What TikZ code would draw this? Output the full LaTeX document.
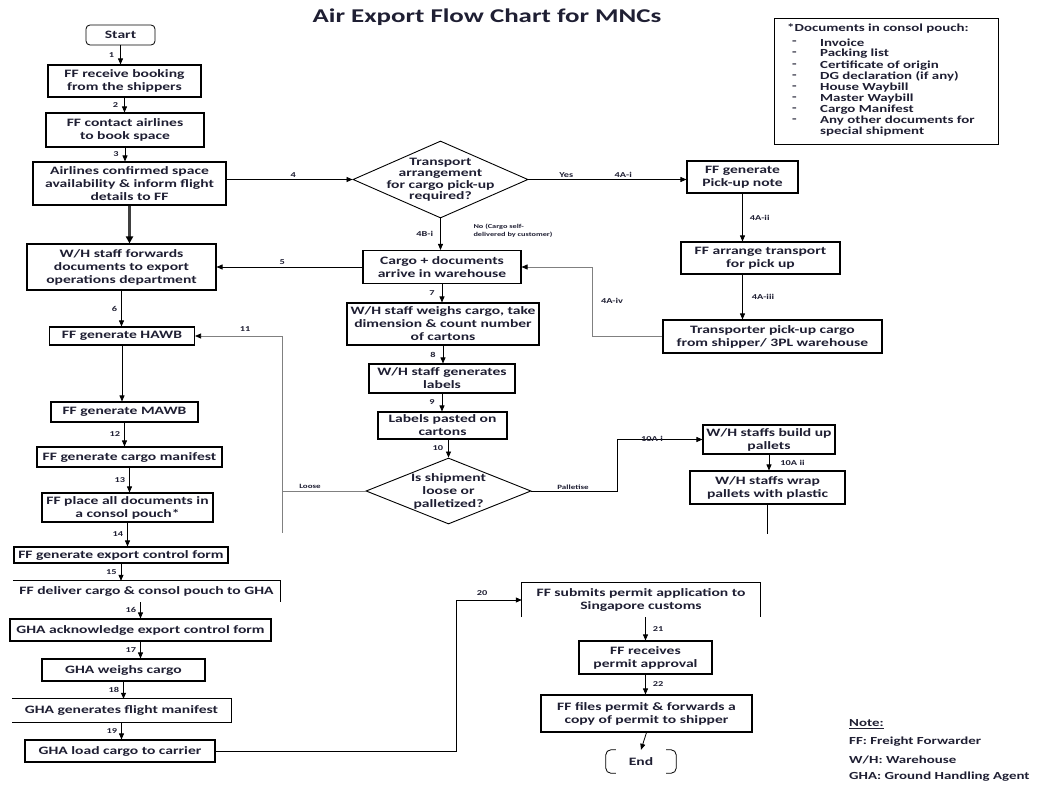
\documentclass[tikz,border=0pt]{standalone}
\usepackage{fontspec}
\setmainfont{Carlito}[FakeStretch=1.38,BoldFeatures={FakeStretch=1.38}]
\usetikzlibrary{arrows.meta,shapes.geometric}
\definecolor{ink}{HTML}{1F1F33}
\definecolor{wire}{HTML}{808080}
\begin{document}
\begin{tikzpicture}[x=1pt,y=-1pt,
  every node/.style={text=ink, font=\bfseries\fontsize{11.3}{13}\selectfont},
  box/.style={draw=black, line width=1.1pt, inner sep=0pt, align=center},
  open/.style={inner sep=0pt, align=center},
  dia/.style={diamond, draw=black, line width=0.9pt, inner sep=0pt},
  arr/.style={draw=black, line width=0.8pt, -{Triangle[length=6pt,width=5pt,color=black]}},
  grayarr/.style={arr, draw=wire},
  edge1/.style={draw=black, line width=1.1pt},
  lbl/.style={font=\bfseries\fontsize{7.5}{9}\selectfont, inner sep=1pt},
  tiny/.style={font=\bfseries\fontsize{6}{8}\selectfont, inner sep=0pt, align=left},
  doc/.style={font=\bfseries\fontsize{10.8}{11}\selectfont, anchor=west, inner sep=0pt},
  note/.style={font=\bfseries\fontsize{10.8}{11}\selectfont, anchor=west, inner sep=0pt},
]
\useasboundingbox[fill=white] (0,0) rectangle (1037,787);

% title
\node[font=\bfseries\fontsize{19.5}{21}\selectfont] (title) at (487,17) {Air Export Flow Chart for MNCs};

% left column
\node[box, rounded corners=4pt, line width=0.8pt, minimum width=69, minimum height=20] (start) at (120.5,35) {Start};
\node[box, minimum width=153, minimum height=32] (b1) at (124.5,81) {FF receive booking\\from the shippers};
\node[box, minimum width=158, minimum height=34] (b2) at (125,130) {FF contact airlines\\to book space};
\node[box, minimum width=193, minimum height=43] (b3) at (129.5,183.5) {Airlines confirmed space\\availability \& inform flight\\details to FF};
\node[box, minimum width=189, minimum height=46] (wh) at (121.5,267) {W/H staff forwards\\documents to export\\operations department};
\node[box, minimum width=145, minimum height=18] (hawb) at (122,336) {FF generate HAWB};
\node[box, minimum width=147, minimum height=20] (mawb) at (124.5,412) {FF generate MAWB};
\node[box, minimum width=185, minimum height=20] (man) at (129.5,457) {FF generate cargo manifest};
\node[box, minimum width=171, minimum height=29] (pouch) at (127.5,507.5) {FF place all documents in\\a consol pouch*};
\node[box, minimum width=214, minimum height=16] (ecf) at (121,555) {FF generate export control form};
\node[open, minimum width=267, minimum height=21] (del) at (146.5,591.5) {FF deliver cargo \& consol pouch to GHA};
\node[box, minimum width=261, minimum height=22] (ack) at (140.5,630) {GHA acknowledge export control form};
\node[box, minimum width=163, minimum height=22] (wgh) at (123.5,670) {GHA weighs cargo};
\node[open, minimum width=219, minimum height=23] (fm) at (121.5,710.5) {GHA generates flight manifest};
\node[box, minimum width=190, minimum height=22] (load) at (120,751) {GHA load cargo to carrier};

% partly drawn frames
\draw[edge1] (del.north west) -- (del.north east) -- (del.south east);
\draw[edge1] (fm.north west) -- (fm.north east) -- (fm.south east) -- (fm.south west);

% middle column
\node[dia, minimum width=175, minimum height=77] (d1) at (440.5,179.5) {};
\node[open, font=\bfseries\fontsize{11.3}{11.5}\selectfont] (d1t) at (d1) {Transport\\arrangement\\for cargo pick-up\\required?};
\node[box, minimum width=158, minimum height=33] (cargo) at (442,267) {Cargo + documents\\arrive in warehouse};
\node[box, minimum width=192, minimum height=42] (weigh) at (443,324) {W/H staff weighs cargo, take\\dimension \& count number\\of cartons};
\node[box, minimum width=146, minimum height=29] (lab) at (442,378.5) {W/H staff generates\\labels};
\node[box, minimum width=129, minimum height=27] (paste) at (442.5,425.5) {Labels pasted on\\cartons};
\node[dia, minimum width=165, minimum height=66] (d2) at (448.5,491) {};
\node[open] (d2t) at (d2) {Is shipment\\loose or\\palletized?};

% right column
\node[box, minimum width=111, minimum height=32] (pick) at (742.5,177) {FF generate\\Pick-up note};
\node[box, minimum width=159, minimum height=32] (arrg) at (760.5,258) {FF arrange transport\\for pick up};
\node[box, minimum width=219, minimum height=33] (trans) at (772.5,336.5) {Transporter pick-up cargo\\from shipper/ 3PL warehouse};
\node[box, minimum width=132, minimum height=29] (build) at (769,439.5) {W/H staffs build up\\pallets};
\node[box, minimum width=155, minimum height=33] (wrap) at (767.5,487.5) {W/H staffs wrap\\pallets with plastic};

% permit steps
\node[open, minimum width=238, minimum height=34] (sub) at (641,600) {FF submits permit application to\\Singapore customs};
\draw[edge1] (sub.south west) -- (sub.north west) -- (sub.north east) -- (sub.south east);
\node[box, minimum width=133, minimum height=33] (rec) at (645.5,657.5) {FF receives\\permit approval};
\node[box, minimum width=211, minimum height=37] (files) at (646.5,713.5) {FF files permit \& forwards a\\copy of permit to shipper};
\node[open, minimum width=70, minimum height=23] (endn) at (641,761.5) {End};
\draw[line width=0.8pt, rounded corners=5pt] ([xshift=10pt]endn.north west) -- (endn.north west) -- (endn.south west) -- ([xshift=10pt]endn.south west);
\draw[line width=0.8pt, rounded corners=5pt] ([xshift=-10pt]endn.north east) -- (endn.north east) -- (endn.south east) -- ([xshift=-10pt]endn.south east);

% connectors, left column
\draw[arr] (start.south) -- (start.south |- b1.north) node[lbl, midway, left=5pt] {1};
\draw[arr] (b1.south) -- (b1.south |- b2.north) node[lbl, midway, left=5pt] {2};
\draw[arr] (b2.south) -- (b2.south |- b3.north) node[lbl, midway, left=5pt] {3};
\draw[line width=2.6pt, draw=black!75, -{Triangle[length=7pt,width=7pt,color=black]}] (b3.south) -- (b3.south |- wh.north);
\draw[arr] (wh.south) -- (wh.south |- hawb.north) node[lbl, midway, left=3pt] {6};
\draw[arr] (hawb.south) -- (hawb.south |- mawb.north);
\draw[arr] (mawb.south) -- (mawb.south |- man.north) node[lbl, midway, left=3pt] {12};
\draw[arr] (man.south) -- (man.south |- pouch.north) node[lbl, midway, left=3pt] {13};
\draw[arr] (pouch.south) -- (pouch.south |- ecf.north) node[lbl, midway, left=3pt] {14};
\draw[arr] (ecf.south) -- (ecf.south |- del.north) node[lbl, midway, left=3pt] {15};
\draw[arr] (ack.north |- del.south) -- (ack.north) node[lbl, midway, left=3pt] {16};
\draw[arr] (ack.south) -- (ack.south |- wgh.north) node[lbl, midway, left=3pt] {17};
\draw[arr] (wgh.south) -- (wgh.south |- fm.north) node[lbl, midway, left=3pt] {18};
\draw[arr] (fm.south) -- (fm.south |- load.north) node[lbl, midway, left=3pt] {19};

% connectors, decision on transport
\draw[arr] (b3.east |- d1.west) -- (d1.west) node[lbl, pos=0.53, above=1pt] {4};
\draw[arr] (d1.east) -- (d1.east -| pick.west) node[lbl, pos=0.24, above=1pt] {Yes} node[lbl, pos=0.6, above=1pt] {4A-i};
\draw[arr] (pick.south) -- (pick.south |- arrg.north) node[lbl, midway, right=6pt] {4A-ii};
\draw[arr] (arrg.south -| pick.south) -- (pick.south |- trans.north) node[lbl, midway, right=8pt] {4A-iii};
\coordinate (k4) at (592,267);
\draw[grayarr] (trans.west) -| (k4) -- (k4 -| cargo.east);
\node[lbl] (l4aiv) at (612,301) {4A-iv};
\draw[arr] (d1.south) -- (d1.south |- cargo.north) node[lbl, midway, left=6pt] {4B-i};
\node[tiny] (l4b) at (513,231) {No (Cargo self-\\delivered by customer)};
\draw[arr] (cargo.west) -- (cargo.west -| wh.east) node[lbl, pos=0.55, above=1pt] {5};

% connectors, warehouse handling
\draw[arr] (cargo.south) -- (cargo.south |- weigh.north) node[lbl, midway, left=6pt] {7};
\draw[arr] (weigh.south) -- (weigh.south |- lab.north) node[lbl, midway, left=6pt] {8};
\draw[arr] (lab.south) -- (lab.south |- paste.north) node[lbl, midway, left=6pt] {9};
\draw[arr] (paste.south -| d2.north) -- (d2.north) node[lbl, midway, left=4pt] {10};

% loose shipment back to HAWB
\coordinate (k11) at (282,491);
\coordinate (k11b) at (282,533);
\draw[grayarr] (d2.west) -- (k11) |- (hawb.east);
\draw[draw=wire, line width=0.8pt] (k11) -- (k11b);
\node[lbl, font=\bfseries\fontsize{6.5}{8}\selectfont] (lloose) at (310,486) {Loose};
\node[lbl] (l11) at (245,329) {11};

% palletised shipment
\coordinate (k10) at (617,491);
\draw[arr] (d2.east) -- (k10) |- (build.west);
\node[lbl, font=\bfseries\fontsize{6.5}{8}\selectfont] (lpal) at (573,487) {Palletise};
\node[lbl] (l10ai) at (652,439) {10A i};
\draw[arr] (build.south) -- (build.south |- wrap.north) node[lbl, midway, right=10pt] {10A ii};
\coordinate (wend) at (767.5,534);
\draw[line width=0.8pt] (wrap.south) -- (wend);

% load cargo to permit application
\coordinate (k20) at (456,751);
\draw[arr] (load.east) -- (k20) |- (sub.west);
\node[lbl] (l20) at (482,593) {20};
\draw[arr] (sub.south -| rec.north) -- (rec.north) node[lbl, midway, right=6pt] {21};
\draw[arr] (rec.south) -- (rec.south |- files.north) node[lbl, midway, right=6pt] {22};
\draw[arr] (files.south) -- (endn.north);

% document list
\node[box, minimum width=224, minimum height=126, anchor=north west] (docs) at (774,18) {};
\node[doc] (dh) at (787,28) {*Documents in consol pouch:};
\foreach \t [count=\i] in {Invoice, Packing list, Certificate of origin, DG declaration (if any), House Waybill, Master Waybill, Cargo Manifest, Any other documents for}{
  \node[doc] (dd\i) at (792,{43+(\i-1)*11.1}) {-};
  \node[doc] (di\i) at (820,{43+(\i-1)*11.1}) {\t};
}
\node[doc] (dlast) at (820,132) {special shipment};

% abbreviations
\node[note] (n0) at (849,724) {\underline{Note:}};
\node[note] (n1) at (849,742) {FF: Freight Forwarder};
\node[note] (n2) at (849,760) {W/H: Warehouse};
\node[note] (n3) at (849,777) {GHA: Ground Handling Agent};
\end{tikzpicture}
\end{document}
